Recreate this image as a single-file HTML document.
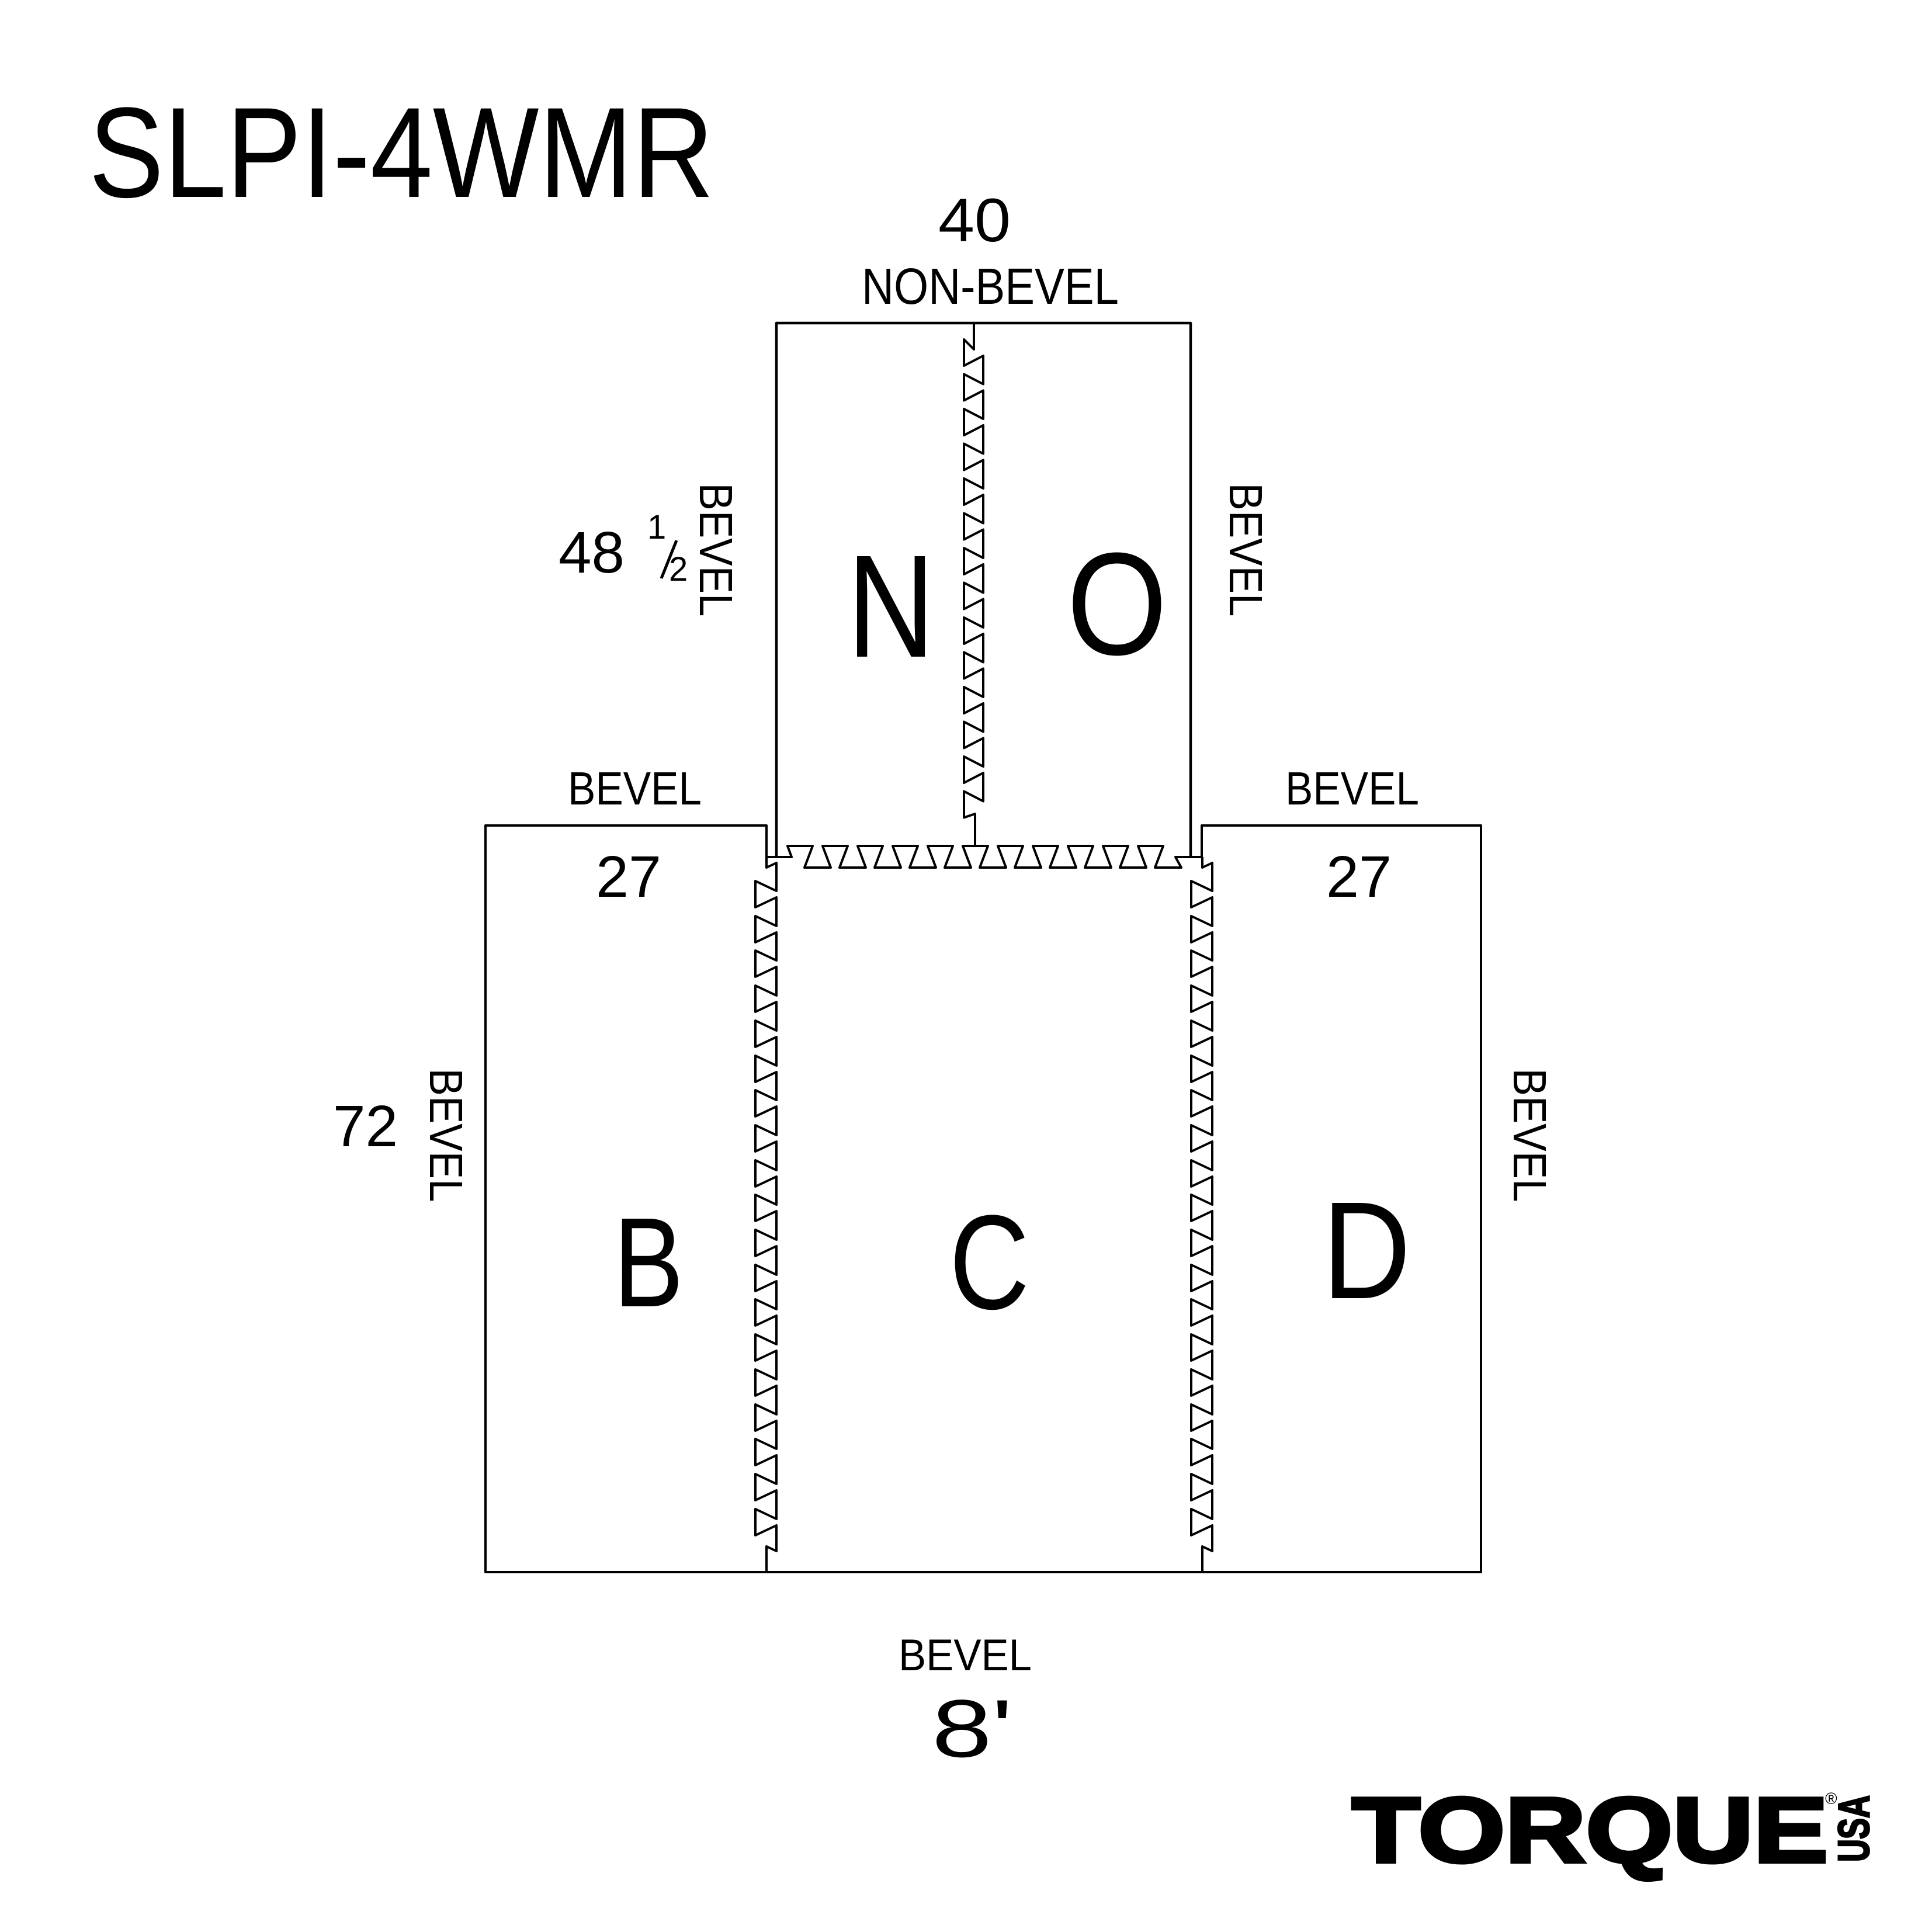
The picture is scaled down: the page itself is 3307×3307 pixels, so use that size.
<!DOCTYPE html>
<html><head><meta charset="utf-8"><style>html,body{margin:0;padding:0;background:#fff}svg{display:block}</style></head>
<body>
<svg xmlns="http://www.w3.org/2000/svg" width="3307" height="3307" viewBox="0 0 3307 3307" font-family="Liberation Sans, sans-serif">
<rect width="3307" height="3307" fill="#fff"/>
<g fill="none" stroke="#000" stroke-width="4" stroke-linejoin="round">
<path d="M1312,1413 H831 V2691 H2535 V1413 H2057 V1467 H2012 L2022,1485 H1977 L1991,1448 H1948 L1962,1485 H1917 L1931,1448 H1888 L1902,1485 H1857 L1871,1448 H1828 L1842,1485 H1797 L1811,1448 H1768 L1782,1485 H1737 L1751,1448 H1708 L1722,1485 H1677 L1691,1448 H1648 L1662,1485 H1617 L1631,1448 H1588 L1602,1485 H1557 L1571,1448 H1528 L1542,1485 H1497 L1511,1448 H1468 L1482,1485 H1437 L1451,1448 H1408 L1422,1485 H1377 L1391,1448 H1348 L1355,1467 H1312 Z"/>
<path d="M1329,1467 V553 H2038 V1467" stroke-width="4.5"/>
<path d="M1667,553 L1667,598 L1650,581 L1650,626 L1683,609 L1683,657.5 L1650,640.5 L1650,685.5 L1683,668.5 L1683,717 L1650,700 L1650,745 L1683,728 L1683,776.5 L1650,759.5 L1650,804.5 L1683,787.5 L1683,836 L1650,819 L1650,864 L1683,847 L1683,895.5 L1650,878.5 L1650,923.5 L1683,906.5 L1683,955 L1650,938 L1650,983 L1683,966 L1683,1014.5 L1650,997.5 L1650,1042.5 L1683,1025.5 L1683,1074 L1650,1057 L1650,1102 L1683,1085 L1683,1133.5 L1650,1116.5 L1650,1161.5 L1683,1144.5 L1683,1193 L1650,1176 L1650,1221 L1683,1204 L1683,1252.5 L1650,1235.5 L1650,1280.5 L1683,1263.5 L1683,1312 L1650,1295 L1650,1340 L1683,1323 L1683,1371.5 L1650,1354.5 L1650,1399.5 L1669,1393 L1669,1448"/>
<path id="j" d="M1312,1467 L1312,1485 L1329,1477 L1329,1525 L1293,1508 L1293,1553 L1329,1536 L1329,1585 L1293,1568 L1293,1613 L1329,1596 L1329,1644 L1293,1627 L1293,1672 L1329,1655 L1329,1704 L1293,1687 L1293,1732 L1329,1715 L1329,1764 L1293,1747 L1293,1792 L1329,1775 L1329,1824 L1293,1807 L1293,1852 L1329,1835 L1329,1883 L1293,1866 L1293,1911 L1329,1894 L1329,1943 L1293,1926 L1293,1971 L1329,1954 L1329,2003 L1293,1986 L1293,2031 L1329,2014 L1329,2062 L1293,2045 L1293,2090 L1329,2073 L1329,2122 L1293,2105 L1293,2150 L1329,2133 L1329,2182 L1293,2165 L1293,2210 L1329,2193 L1329,2241 L1293,2224 L1293,2269 L1329,2252 L1329,2301 L1293,2284 L1293,2329 L1329,2312 L1329,2361 L1293,2344 L1293,2389 L1329,2372 L1329,2421 L1293,2404 L1293,2449 L1329,2432 L1329,2480 L1293,2463 L1293,2508 L1329,2491 L1329,2540 L1293,2523 L1293,2568 L1329,2551 L1329,2600 L1293,2583 L1293,2628 L1329,2611 L1329,2655 L1312,2647 L1312,2691"/>
<use href="#j" transform="translate(746,0)"/>
</g>
<g fill="#000">
<text x="152" y="337" font-size="220" textLength="1070" lengthAdjust="spacingAndGlyphs">SLPI-4WMR</text>
<text x="1606" y="413" font-size="105" textLength="124" lengthAdjust="spacingAndGlyphs">40</text>
<text x="1475" y="520" font-size="87" textLength="440" lengthAdjust="spacingAndGlyphs">NON-BEVEL</text>
<text x="972" y="1377" font-size="80" textLength="229" lengthAdjust="spacingAndGlyphs">BEVEL</text>
<text x="2200" y="1377" font-size="80" textLength="229" lengthAdjust="spacingAndGlyphs">BEVEL</text>
<text x="1020" y="1535" font-size="100" textLength="112" lengthAdjust="spacingAndGlyphs">27</text>
<text x="2270" y="1535" font-size="100" textLength="112" lengthAdjust="spacingAndGlyphs">27</text>
<text x="956" y="980" font-size="100" textLength="113" lengthAdjust="spacingAndGlyphs">48</text>
<text x="1108" y="922" font-size="58">1</text>
<line x1="1132" y1="990" x2="1158" y2="925" stroke="#000" stroke-width="5"/>
<text x="1145" y="994" font-size="58">2</text>
<text x="570" y="1962" font-size="100" textLength="111" lengthAdjust="spacingAndGlyphs">72</text>
<text transform="translate(1198,941) rotate(90)" text-anchor="middle" font-size="80" textLength="229" lengthAdjust="spacingAndGlyphs">BEVEL</text>
<text transform="translate(2105,941) rotate(90)" text-anchor="middle" font-size="80" textLength="229" lengthAdjust="spacingAndGlyphs">BEVEL</text>
<text transform="translate(736,1943) rotate(90)" text-anchor="middle" font-size="80" textLength="229" lengthAdjust="spacingAndGlyphs">BEVEL</text>
<text transform="translate(2591,1943) rotate(90)" text-anchor="middle" font-size="80" textLength="229" lengthAdjust="spacingAndGlyphs">BEVEL</text>
<text x="1450" y="1124" font-size="250" textLength="150" lengthAdjust="spacingAndGlyphs">N</text>
<text x="1826" y="1120" font-size="250" textLength="172" lengthAdjust="spacingAndGlyphs">O</text>
<text x="1050" y="2236" font-size="218" textLength="120" lengthAdjust="spacingAndGlyphs">B</text>
<text x="1625" y="2240" font-size="230" textLength="137" lengthAdjust="spacingAndGlyphs">C</text>
<text x="2263" y="2222" font-size="237" textLength="152" lengthAdjust="spacingAndGlyphs">D</text>
<text x="1538" y="2859" font-size="76" textLength="228" lengthAdjust="spacingAndGlyphs">BEVEL</text>
<text x="1595" y="3007" font-size="140" textLength="138" lengthAdjust="spacingAndGlyphs">8'</text>
<text x="2314" y="3187" font-size="158" font-weight="bold" stroke="#000" stroke-width="6" textLength="815" lengthAdjust="spacingAndGlyphs">TORQUE</text>
<text transform="translate(3199,3130) rotate(-90)" text-anchor="middle" font-size="75" font-weight="bold" stroke="#000" stroke-width="3" textLength="114" lengthAdjust="spacingAndGlyphs">USA</text>
<text x="3124" y="3088" font-size="28">®</text>
</g>
</svg>
</body></html>
